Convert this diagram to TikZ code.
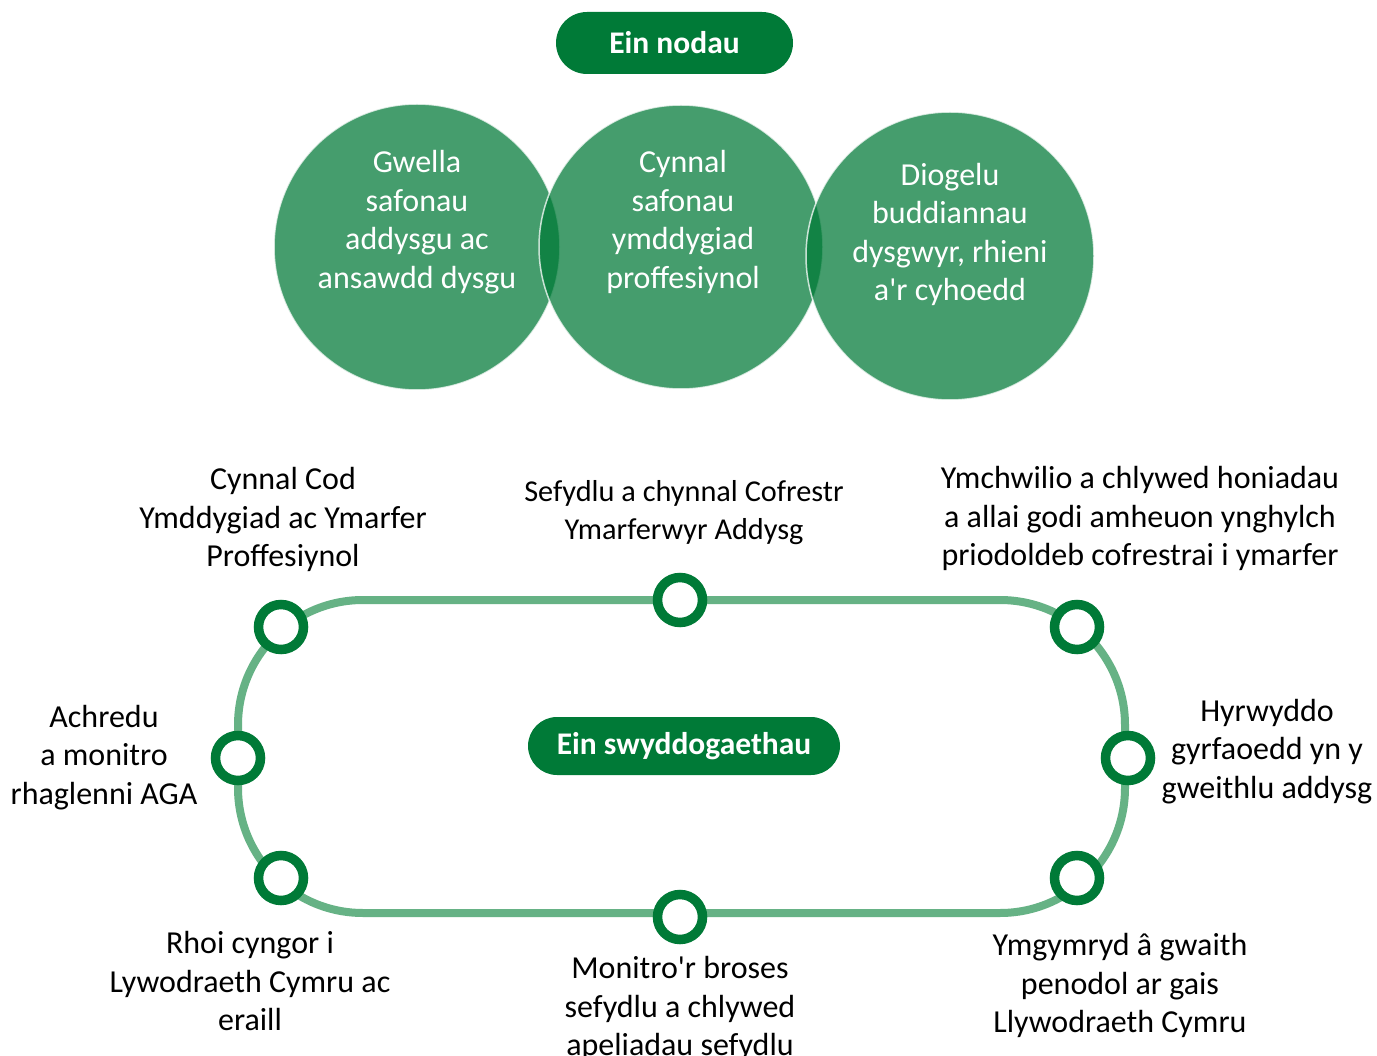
\documentclass[tikz,border=0pt]{standalone}
\usepackage{fontspec}
\setmainfont{Carlito}
\definecolor{dkgreen}{HTML}{007A37}
\definecolor{trackgreen}{HTML}{66B285}
\tikzset{
  goal/.style={circle, fill=dkgreen, fill opacity=0.73, draw=white, draw opacity=0.75, line width=1.5pt, minimum size=#1, inner sep=0pt},
  goaltext/.style={text=white, align=center, font=\fontsize{32}{38.5}\selectfont, inner sep=0pt},
  pill/.style={rounded corners=29pt, fill=dkgreen, text=white, font=\bfseries\fontsize{31.5}{36}\selectfont, inner sep=0pt},
  ring/.style={circle, draw=dkgreen, fill=white, line width=9.5pt, minimum size=45pt, inner sep=0pt},
  label/.style={align=center, font=\fontsize{32}{38.5}\selectfont, inner sep=0pt, text=black},
}
\begin{document}
\begin{tikzpicture}[x=1pt, y=-1pt]
\useasboundingbox (0,0) rectangle (1377,1056);
\fill[white] (0,0) rectangle (1377,1056);

% title pill
\node[pill, minimum width=237pt, minimum height=62pt, rounded corners=31pt] (nodau) at (674.5,43) {Ein nodau};

% goal circles
\node[goal=286pt] (g1) at (417,247) {};
\node[goal=284pt] (g2) at (681,247) {};
\node[goal=288pt] (g3) at (950,256) {};
\node[goaltext] (t1) at (417,222) {Gwella\\safonau\\addysgu ac\\ansawdd dysgu};
\node[goaltext] (t2) at (683,222) {Cynnal\\safonau\\ymddygiad\\proffesiynol};
\node[goaltext] (t3) at (950,234.5) {Diogelu\\buddiannau\\dysgwyr, rhieni\\a\textquotesingle r cyhoedd};

% track
\draw[trackgreen, line width=8pt, rounded corners=125pt] (238,600) rectangle (1125,913);

\node[pill, minimum width=312pt, minimum height=58pt] (swydd) at (684,746) {Ein swyddogaethau};

% rings
\node[ring] (r1) at (281,627) {};
\node[ring] (r2) at (680,600) {};
\node[ring] (r3) at (1077,627) {};
\node[ring] (r4) at (238,758) {};
\node[ring] (r5) at (1128,758) {};
\node[ring] (r6) at (281,878) {};
\node[ring] (r7) at (680,917) {};
\node[ring] (r8) at (1077,878) {};

% labels
\node[label] (l1) at (283,519.5) {Cynnal Cod\\Ymddygiad ac Ymarfer\\Proffesiynol};
\node[label, font=\fontsize{30.3}{38.5}\selectfont] (l2) at (684,512.5) {Sefydlu a chynnal Cofrestr\\Ymarferwyr Addysg};
\node[label] (l3) at (1140,518.5) {Ymchwilio a chlywed honiadau\\a allai godi amheuon ynghylch\\priodoldeb cofrestrai i ymarfer};
\node[label] (l4) at (104,757.5) {Achredu\\a monitro\\rhaglenni AGA};
\node[label] (l5) at (1267,751.5) {Hyrwyddo\\gyrfaoedd yn y\\gweithlu addysg};
\node[label] (l6) at (250,981.5) {Rhoi cyngor i\\Lywodraeth Cymru ac\\eraill};
\node[label] (l7) at (680,1008.5) {Monitro\textquotesingle r broses\\sefydlu a chlywed\\apeliadau sefydlu};
\node[label] (l8) at (1120,985.5) {Ymgymryd â gwaith\\penodol ar gais\\Llywodraeth Cymru};
\end{tikzpicture}
\end{document}
